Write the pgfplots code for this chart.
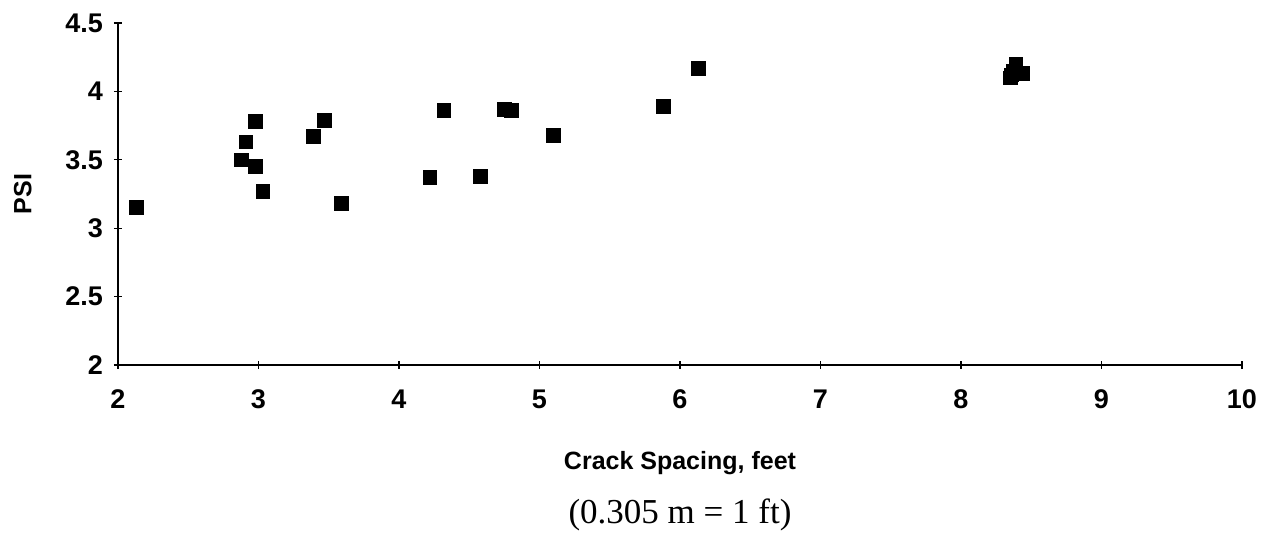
\documentclass[border=0pt]{standalone}
\usepackage{fontspec}
\setmainfont{Liberation Sans}
\newfontfamily\serifcap{Liberation Serif}
\usepackage{pgfplots}
\pgfplotsset{compat=1.18}
\begin{document}
\begin{tikzpicture}
\begin{axis}[
  scale only axis,
  width=562pt, height=171pt,
  xmin=2, xmax=10, ymin=2, ymax=4.5,
  axis lines=left,
  axis line style={-, line width=0.6pt},
  xtick={2,3,...,10},
  ytick={2,2.5,...,4.5},
  tick align=center,
  major tick length=4pt,
  tick style={black, line width=0.6pt},
  /pgf/number format/assume math mode=true,
  ticklabel style={font=\fontsize{13.5}{15}\selectfont\bfseries},
  xticklabel style={yshift=-7pt},
  yticklabel style={xshift=-2pt},
  xlabel={\fontsize{12.5}{14}\selectfont\bfseries Crack Spacing, feet},
  xlabel style={yshift=-14pt},
  ylabel={\fontsize{12.5}{14}\selectfont\bfseries PSI},
  ylabel style={yshift=10pt},
  clip=false,
]
\addplot[only marks, mark=square*, mark size=3.4pt, black] coordinates {
(2.13,3.15)
(2.98,3.78)
(2.91,3.63)
(2.88,3.50)
(2.98,3.45)
(3.03,3.27)
(3.39,3.67)
(3.47,3.79)
(3.59,3.18)
(4.22,3.37)
(4.32,3.86)
(4.58,3.38)
(4.75,3.87)
(4.80,3.86)
(5.10,3.68)
(5.88,3.89)
(6.13,4.17)
(8.35,4.10)
(8.37,4.15)
(8.39,4.20)
(8.36,4.12)
(8.44,4.13)
};
\end{axis}
\node[font=\serifcap\fontsize{17.5}{19}\selectfont] at (281pt,-75pt) {(0.305 m = 1 ft)};
\pgfresetboundingbox
\path[use as bounding box] (-59pt,-85pt) rectangle (574pt,182.5pt);
\end{tikzpicture}
\end{document}
